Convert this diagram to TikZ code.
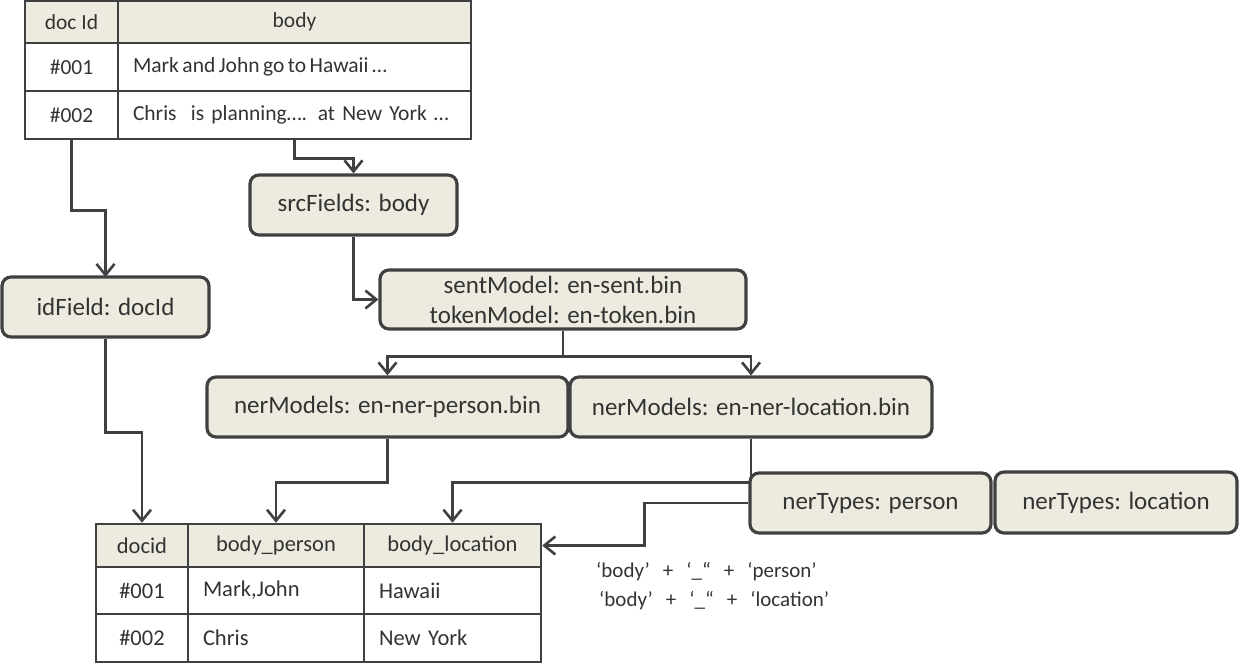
\documentclass[tikz,border=0pt]{standalone}
\usepackage{fontspec}
\setmainfont{Carlito}
\usetikzlibrary{arrows.meta,calc}
\definecolor{linec}{HTML}{404040}
\definecolor{boxfill}{HTML}{EDEBE0}
\definecolor{txt}{HTML}{333333}
\newcommand{\wsp}{\hspace{13pt}}
\tikzset{
  stepbox/.style={draw=linec, line width=3.2pt, rounded corners=9pt, fill=boxfill, text=txt,
    font=\fontsize{25}{30}\selectfont, inner sep=0pt, align=center},
  cellc/.style={draw=linec, line width=2.5pt, fill=white, text=txt, inner sep=0pt,
    font=\fontsize{21.5}{26}\selectfont, align=center},
  hdr/.style={cellc, fill=boxfill},
  cellL/.style={cellc, align=left, inner xsep=15pt},
  lowtab/.style={font=\fontsize{22.5}{26}\selectfont},
  conn/.style={draw=linec, line width=2.6pt, ->, >={Straight Barb[length=11pt,width=18pt]}},
  note/.style={text=txt, font=\fontsize{21}{24}\selectfont, inner sep=0pt, anchor=west}
}
\begin{document}
\begin{tikzpicture}[x=1pt,y=-1pt]
\useasboundingbox (0,0) rectangle (1240,665);
% top table
\node[hdr, minimum width=93pt, minimum height=42pt] (tIdH) at (71.5,22) {doc Id};
\node[hdr, minimum width=353pt, minimum height=42pt] (tBodyH) at (294.5,22) {body};
\node[cellc, minimum width=93pt, minimum height=48pt] (tId1) at (71.5,67) {\#001};
\node[cellL, text width=323pt, minimum height=48pt] (tBody1) at (294.5,67) {\spaceskip=3.5pt plus 1pt Mark and John go to Hawaii …};
\node[cellc, minimum width=93pt, minimum height=48pt] (tId2) at (71.5,115) {\#002};
\node[cellL, text width=323pt, minimum height=48pt] (tBody2) at (294.5,115) {Chris\ \ is planning…. at New York …};
% bottom table
\node[hdr, lowtab, minimum width=92pt, minimum height=43pt] (hId) at (142,545.5) {docid};
\node[hdr, lowtab, minimum width=176pt, minimum height=43pt] (hPer) at (276,545.5) {body\_person};
\node[hdr, lowtab, minimum width=177pt, minimum height=43pt] (hLoc) at (452.5,545.5) {body\_location};
\node[cellc, lowtab, minimum width=92pt, minimum height=47pt] (bId1) at (142,590.5) {\#001};
\node[cellL, lowtab, text width=146pt, minimum height=47pt] (bPer1) at (276,590.5) {Mark,John};
\node[cellL, lowtab, text width=147pt, minimum height=47pt] (bLoc1) at (452.5,590.5) {Hawaii};
\node[cellc, lowtab, minimum width=92pt, minimum height=48pt] (bId2) at (142,638) {\#002};
\node[cellL, lowtab, text width=146pt, minimum height=48pt] (bPer2) at (276,638) {Chris};
\node[cellL, lowtab, text width=147pt, minimum height=48pt] (bLoc2) at (452.5,638) {New York};
% connectors drawn before boxes
\path (tId2.south) ++(0,70) coordinate (c1);
\draw[conn] (tId2.south) -- (c1) -| (105.5,277);
\path (tBody2.south) ++(0,18) coordinate (c2);
% boxes
\node[stepbox, minimum width=207pt, minimum height=60pt] (src) at (353.5,205) {srcFields: body};
\node[stepbox, minimum width=366pt, minimum height=59pt] (sent) at (563,299.5) {sentModel: en-sent.bin\\tokenModel: en-token.bin};
\node[stepbox, minimum width=207pt, minimum height=60pt] (idf) at (105.5,307) {idField: docId};
\node[stepbox, minimum width=361pt, minimum height=60pt] (nerP) at (387.5,407) {nerModels: en-ner-person.bin};
\node[stepbox, minimum width=362pt, minimum height=60pt] (nerL) at (751,407) {nerModels: en-ner-location.bin};
\path (sent.south) ++(0,26) coordinate (c3);
\path (idf.south) ++(0,94) coordinate (c4);
\path (nerP.south) ++(0,44) coordinate (c5);
\path (nerL.south) ++(0,44) coordinate (c6);
\draw[conn] (tBody2.south) -- (c2) -| (src.north);
\draw[conn] (src.south) |- (sent.west);
\draw[conn] (sent.south) -- (c3) -| (nerP.north);
\draw[conn] (c3) -| (nerL.north);
\draw[conn] (idf.south) -- (c4) -| (hId.north);
\draw[conn] (nerP.south) -- (c5) -| (hPer.north);
\draw[conn] (nerL.south) -- (c6) -| (hLoc.north);
\node[stepbox, minimum width=241pt, minimum height=60pt] (typP) at (870.5,503) {nerTypes: person};
\node[stepbox, minimum width=242pt, minimum height=61pt] (typL) at (1116,502.5) {nerTypes: location};
\path (typP.west) ++(-104,0) coordinate (c7);
\draw[conn] (typP.west) -- (c7) |- (hLoc.east);
\node[note] (n1) at (596,572) {‘body’\wsp+\wsp‘\_“\wsp+\wsp‘person’};
\node[note] (n2) at (599,601) {‘body’\wsp+\wsp‘\_“\wsp+\wsp‘location’};
\end{tikzpicture}
\end{document}
